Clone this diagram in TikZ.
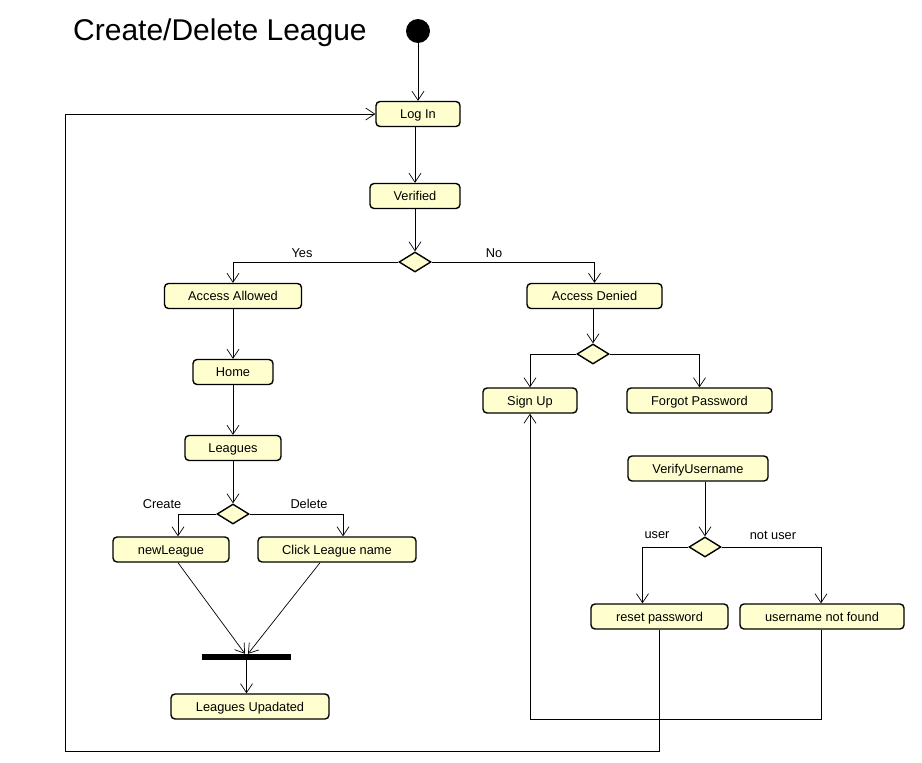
\documentclass[tikz,border=0pt]{standalone}
\usepackage{fontspec}
\setmainfont{Liberation Sans}
\usetikzlibrary{arrows.meta,shapes.geometric,calc}
\definecolor{actfill}{HTML}{FEFECE}
\begin{document}
\begin{tikzpicture}[x=1pt,y=-1pt,
 act/.style={draw, line width=1.4pt, rounded corners=4pt, fill=actfill, minimum height=25pt, inner sep=0pt, text height=11pt, text depth=2pt, font=\fontsize{12.8}{14}\selectfont},
 dec/.style={diamond, draw, line width=1.4pt, fill=actfill, minimum width=32pt, minimum height=20pt, inner sep=0pt},
 conn/.style={line width=0.7pt, -{Straight Barb[length=9pt,width=12pt]}},
 lbl/.style={font=\fontsize{12.8}{14}\selectfont, inner sep=0pt}]
\useasboundingbox (0,0) rectangle (922,763);
\fill[white] (0,0) rectangle (922,763);

\node[font=\fontsize{30}{34}\selectfont, anchor=west, inner sep=0pt] (title) at (73,33) {Create/Delete League};
\node[circle, fill=black, minimum size=24pt, inner sep=0pt] (start) at (418,31) {};
\node[act, minimum width=84pt] (login) at (418,114) {Log In};
\node[act, minimum width=90pt] (ver) at (415,196) {Verified};
\node[dec] (d1) at (415,262) {};
\node[act, minimum width=137pt] (aa) at (233,296) {Access Allowed};
\node[act, minimum width=135pt] (ad) at (594.5,296) {Access Denied};
\node[act, minimum width=80pt] (home) at (233,372) {Home};
\node[act, minimum width=96pt] (lg) at (233,448) {Leagues};
\node[dec] (d2) at (233,514) {};
\node[act, minimum width=116pt] (nl) at (171,549.5) {newLeague};
\node[act, minimum width=158pt] (cl) at (337,549.5) {Click League name};
\node[fill=black, minimum width=89pt, minimum height=6pt, inner sep=0pt] (bar) at (246.5,657) {};
\node[act, minimum width=158pt] (lu) at (250,706.5) {Leagues Upadated};
\node[dec] (d3) at (593,354) {};
\node[act, minimum width=94pt] (su) at (530,400.5) {Sign Up};
\node[act, minimum width=145pt] (fp) at (699.5,400.5) {Forgot Password};
\node[act, minimum width=140pt] (vu) at (698,468.5) {VerifyUsername};
\node[dec] (d4) at (705,547) {};
\node[act, minimum width=137pt] (rp) at (659.5,616.5) {reset password};
\node[act, minimum width=164pt] (unf) at (822,616.5) {username not found};

\node[lbl] (lyes) at (302,253) {Yes};
\node[lbl] (lno) at (494,253) {No};
\node[lbl] (lcreate) at (162,504) {Create};
\node[lbl] (ldelete) at (309,504) {Delete};
\node[lbl] (luser) at (657,535) {user};
\node[lbl] (lnotuser) at (773,535) {not user};

\coordinate (l1) at (821,719);
\coordinate (l2) at (659,751);
\coordinate (l3) at (65,751);

\draw[conn] (start) -- (login);
\draw[conn] (login.south -| ver.north) -- (ver.north);
\draw[conn] (ver.south) -- (d1.north);
\draw[conn] (d1.west) -| (aa.north);
\draw[conn] (d1.east) -| (ad.north);
\draw[conn] (aa.south) -- (home.north);
\draw[conn] (home.south) -- (lg.north);
\draw[conn] (lg.south) -- (d2.north);
\draw[conn] (d2.west) -| ($(nl.north)+(7,0)$);
\draw[conn] (d2.east) -| ($(cl.north)+(6,0)$);
\draw[conn] ($(nl.south)+(7,0)$) -- ($(bar.north)+(-1.5,0)$);
\draw[conn] ($(cl.south)+(-17,0)$) -- ($(bar.north)+(1.5,0)$);
\draw[conn] (bar.south) -- (bar.south |- lu.north);
\draw[conn] (d3.north |- ad.south) -- (d3.north);
\draw[conn] (d3.west) -| (su.north);
\draw[conn] (d3.east) -| (fp.north);
\draw[conn] (vu.south -| d4.north) -- (d4.north);
\draw[conn] (d4.west) -| ($(rp.north)+(-17,0)$);
\draw[conn] (d4.east) -| ($(unf.north)+(-1,0)$);
\draw[conn] ($(unf.south)+(-1,0)$) -- (l1) -| (su.south);
\draw[conn] (rp.south) -- (rp.south |- l2) -- (l3) |- (login.west);
\end{tikzpicture}
\end{document}
